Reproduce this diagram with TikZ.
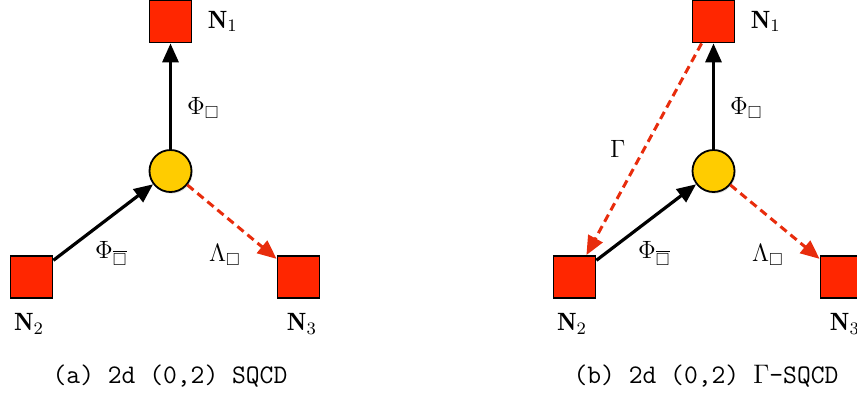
\RequirePackage{fix-cm}
\documentclass[tikz,border=0pt]{standalone}
\usepackage{amssymb}
\usepackage{fontspec}
\usetikzlibrary{positioning, arrows.meta, shadows}

\definecolor{flavred}{RGB}{255,38,0}
\definecolor{gaugeyellow}{RGB}{255,204,0}
\definecolor{fermired}{RGB}{232,44,12}

\begin{document}
\begin{tikzpicture}[x=0.5pt, y=-0.5pt,
    flavour/.style={draw=black, line width=0.9pt, rectangle, fill=flavred, minimum size=21pt, inner sep=0pt},
    gauge/.style={draw=black, line width=0.9pt, circle, fill=gaugeyellow, minimum size=21pt, inner sep=0pt,
        drop shadow={opacity=0.25, shadow xshift=0.6pt, shadow yshift=-0.8pt}},
    chiral/.style={line width=1.6pt, -{Triangle[length=9.5pt, width=8pt]}},
    fermi/.style={line width=1.5pt, draw=fermired, dash pattern=on 4pt off 2.5pt, -{Triangle[length=9.5pt, width=8pt]}},
    varlabel/.style={font=\fontsize{12.5}{15}\selectfont, inner sep=1pt},
    caption/.style={font=\fontsize{13.4}{16}\selectfont\ttfamily, inner sep=1pt}
]
\clip (0,0) rectangle (857,393);

% (a) SQCD
\node[flavour] (N1a) at (170.5,21.5) {};
\node[flavour] (N2a) at (31.5,277) {};
\node[flavour] (N3a) at (298.5,277) {};
\node[gauge] (ca) at (170.5,171) {};
\node[varlabel, right=6.5pt of N1a] (la1) {$\mathbf{N}_1$};
\node[varlabel, below=6pt of N2a, xshift=-1.2pt] (la2) {$\mathbf{N}_2$};
\node[varlabel, below=6pt of N3a, xshift=1.7pt] (la3) {$\mathbf{N}_3$};

\draw[chiral] (ca) -- (N1a) node[pos=0.39, right=6.5pt, varlabel] {$\Phi_{\Box}$};
\draw[chiral] (N2a) -- (ca) node[midway, below=8pt, xshift=4pt, varlabel] {$\Phi_{\overline{\Box}}$};
\draw[fermi] (ca) -- (N3a) node[midway, below=9.5pt, xshift=-3.5pt, varlabel] {$\Lambda_{\Box}$};

\node[caption] (capa) at (170,376) {(a) 2d (0,2) SQCD};

% (b) Gamma-SQCD
\node[flavour] (N1b) at (713.5,21.5) {};
\node[flavour] (N2b) at (574.5,277) {};
\node[flavour] (N3b) at (841.5,277) {};
\node[gauge] (cb) at (713.5,171) {};
\node[varlabel, right=6.5pt of N1b] (lb1) {$\mathbf{N}_1$};
\node[varlabel, below=6pt of N2b, xshift=-1.2pt] (lb2) {$\mathbf{N}_2$};
\node[varlabel, below=6pt of N3b, xshift=1.7pt] (lb3) {$\mathbf{N}_3$};

\draw[chiral] (cb) -- (N1b) node[pos=0.39, right=6.5pt, varlabel] {$\Phi_{\Box}$};
\draw[chiral] (N2b) -- (cb) node[midway, below=8pt, xshift=4pt, varlabel] {$\Phi_{\overline{\Box}}$};
\draw[fermi] (cb) -- (N3b) node[midway, below=9.5pt, xshift=-3.5pt, varlabel] {$\Lambda_{\Box}$};
\draw[fermi] (N1b) -- (N2b) node[midway, left=7.5pt, varlabel] {$\Gamma$};

\node[caption] (capb) at (706,376) {(b) 2d (0,2) $\Gamma$-SQCD};

\end{tikzpicture}
\end{document}
